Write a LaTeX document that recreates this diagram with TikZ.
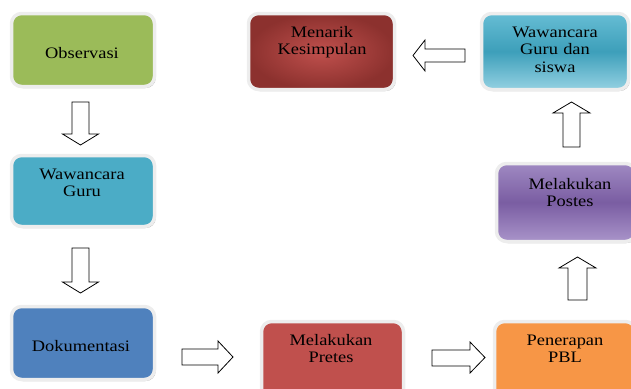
\documentclass[tikz,border=0pt]{standalone}
\usepackage{fontspec}
\setmainfont{Liberation Serif}[FakeStretch=1.15]
\usetikzlibrary{shadows}
\definecolor{cGreen}{HTML}{9BBB59}
\definecolor{cCyan}{HTML}{4BACC6}
\definecolor{cBlue}{HTML}{4F81BD}
\definecolor{cRed}{HTML}{C0504D}
\definecolor{cOrange}{HTML}{F79646}
\definecolor{cMkIn}{HTML}{C0504D}
\definecolor{cMkOut}{HTML}{8C312E}
\definecolor{cWsTop}{HTML}{66BDD4}
\definecolor{cWsMid}{HTML}{3D9FBA}
\definecolor{cWsBot}{HTML}{94D1E2}
\definecolor{cPsTop}{HTML}{9F89C2}
\definecolor{cPsMid}{HTML}{7A5DA2}
\definecolor{cPsBot}{HTML}{A994CA}
\begin{document}
\begin{tikzpicture}[x=1pt,y=-1pt,
  box/.style={rectangle, rounded corners=10pt, draw=black!7, line width=3.5pt,
    inner sep=0pt, outer sep=0pt,
    drop shadow={shadow xshift=1.2pt, shadow yshift=-1.5pt, opacity=0.35, fill=black}},
  lbl/.style={font=\fontsize{16}{17.5}\selectfont, align=center, text width=140pt,
    anchor=base, inner sep=0pt, text=black},
  blk/.style={draw=black, line width=0.8pt, fill=white, line join=miter}]
\useasboundingbox (0,0) rectangle (631,388);

% boxes
\node[box, fill=cGreen, minimum width=143pt, minimum height=73pt] (obs) at (83,50) {};
\node[box, fill=cCyan, minimum width=143pt, minimum height=71pt] (wg) at (83,191) {};
\node[box, fill=cBlue, minimum width=143pt, minimum height=73pt] (dok) at (83,343) {};
\node[box, fill=cRed, minimum width=142pt, minimum height=79pt] (pre) at (332.5,361) {};
\node[box, fill=cOrange, minimum width=141pt, minimum height=79pt] (pbl) at (565,361) {};
\node[box, top color=cPsTop, bottom color=cPsBot, middle color=cPsMid,
  minimum width=139pt, minimum height=78pt] (pos) at (566,202.5) {};
\node[box, top color=cWsTop, bottom color=cWsBot, middle color=cWsMid,
  minimum width=147pt, minimum height=76pt] (wgs) at (555,51.5) {};
\node[box, inner color=cMkIn, outer color=cMkOut,
  minimum width=146pt, minimum height=76pt] (mk) at (321.5,51.5) {};

% labels
\node[lbl] (obst) at (82,58) {Observasi};
\node[lbl] (wgt) at (82,179) {Wawancara\\Guru};
\node[lbl] (dokt) at (81,351) {Dokumentasi};
\node[lbl] (pret) at (331,345) {Melakukan\\Pretes};
\node[lbl] (pblt) at (565,345) {Penerapan\\PBL};
\node[lbl] (post) at (570,189) {Melakukan\\Postes};
\node[lbl] (wgst) at (555,37) {Wawancara\\Guru dan\\siswa};
\node[lbl] (mkt) at (322,37) {Menarik\\Kesimpulan};

% block arrows
\draw[blk] (72,102) -- (89,102) -- (89,134) -- (98.5,134) -- (80.5,145) -- (62.5,134) -- (72,134) -- cycle;
\draw[blk] (72,248) -- (89,248) -- (89,282) -- (98.5,282) -- (80.5,293) -- (62.5,282) -- (72,282) -- cycle;
\draw[blk] (182,349) -- (218,349) -- (218,341) -- (233,357) -- (218,373) -- (218,365) -- (182,365) -- cycle;
\draw[blk] (432,350) -- (470,350) -- (470,342) -- (485,357.5) -- (470,373) -- (470,366) -- (432,366) -- cycle;
\draw[blk] (568,300) -- (568,268) -- (559,268) -- (577.5,257) -- (596,268) -- (587,268) -- (587,300) -- cycle;
\draw[blk] (563,147) -- (563,113) -- (553,113) -- (571.5,102) -- (590,113) -- (580,113) -- (580,147) -- cycle;
\draw[blk] (465,49) -- (425,49) -- (425,40) -- (413,55.5) -- (425,71) -- (425,62) -- (465,62) -- cycle;
\end{tikzpicture}
\end{document}
